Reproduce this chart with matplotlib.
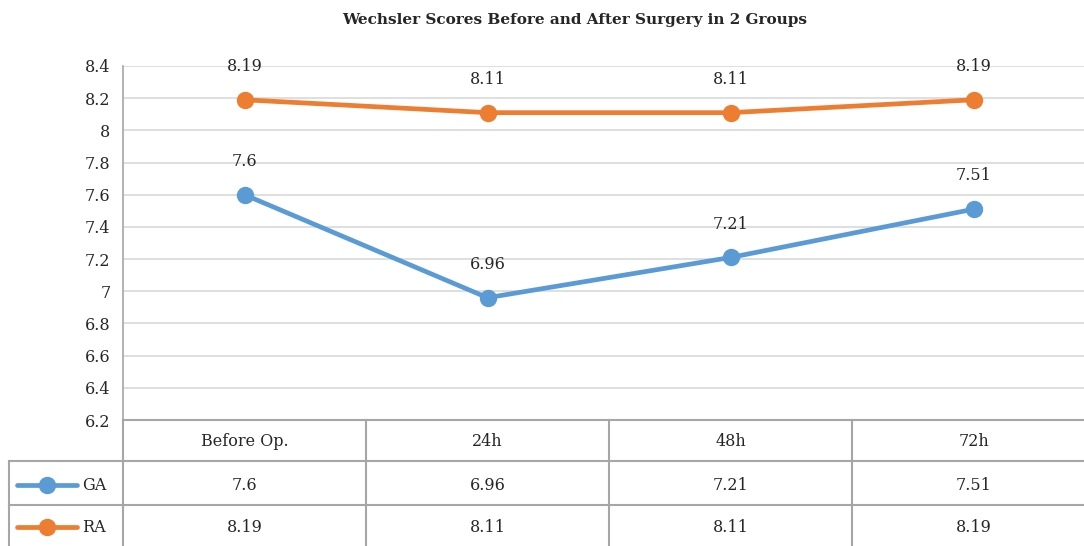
import numpy as np
import matplotlib.pyplot as plt
from matplotlib.lines import Line2D

plt.rcParams['font.family'] = ['DejaVu Serif']

categories = ['Before Op.', '24h', '48h', '72h']
ga_scores = [7.6, 6.96, 7.21, 7.51]
ra_scores = [8.19, 8.11, 8.11, 8.19]
series_names = ['GA', 'RA']
yticks = [6.2, 6.4, 6.6, 6.8, 7, 7.2, 7.4, 7.6, 7.8, 8, 8.2, 8.4]

blue = '#5B9BD5'
orange = '#ED7D31'
grid_c = '#D9D9D9'
edge_c = '#A6A6A6'
W, H = 1084, 546

fig = plt.figure(figsize=(W / 100, H / 100), dpi=100)

# main plot area: pixels 123..1095 wide, 66..420 tall
ax = fig.add_axes([123 / W, 1 - 420 / H, 972 / W, 354 / H])
x = np.arange(len(categories))
for vals, col in [(ga_scores, blue), (ra_scores, orange)]:
    ax.plot(x, vals, color=col, lw=3.4, marker='o', ms=11.5, solid_capstyle='round', zorder=3)
    for xi, v in zip(x, vals):
        ax.annotate(f'{v:g}', (xi, v), xytext=(0, 24), textcoords='offset points',
                    ha='center', va='center', fontsize=11.5, color='#262626')

ax.set_xlim(-0.5, 3.5)
ax.set_ylim(6.2, 8.4)
ax.set_yticks(yticks)
ax.set_yticklabels([f'{t:g}' for t in yticks], fontsize=11.5, color='#262626')
ax.tick_params(axis='y', length=0, pad=9)
ax.set_xticks([])
ax.grid(axis='y', color=grid_c, lw=1.2)
for s in ['top', 'right', 'bottom']:
    ax.spines[s].set_visible(False)
ax.spines['left'].set_color(edge_c)
ax.spines['left'].set_linewidth(1.2)
ax.set_axisbelow(True)

# data table below, in category units on x and pixel rows on y
x0 = (9 - 244.5) / 243
tax = fig.add_axes([9 / W, 0, (1095 - 9) / W, 126 / H])
tax.set_xlim(x0, 3.5)
tax.set_ylim(546, 420)
tax.axis('off')
lk = dict(color=edge_c, lw=1.5, clip_on=False)
tax.plot([-0.5, 3.5], [420, 420], **lk)
tax.plot([x0, 3.5], [461, 461], **lk)
tax.plot([x0, 3.5], [505, 505], **lk)
tax.plot([x0, x0], [461, 550], **lk)
for b in [-0.5, 0.5, 1.5, 2.5]:
    tax.plot([b, b], [420, 550], **lk)

for xi, c in zip(x, categories):
    tax.text(xi, 442, c, ha='center', va='center', fontsize=11.5, color='#262626')
rows = [(ga_scores, blue, 485), (ra_scores, orange, 527)]
for name, (vals, col, yy) in zip(series_names, rows):
    tax.add_line(Line2D([-0.936, -0.689], [yy, yy], color=col, lw=3.4,
                        solid_capstyle='round', clip_on=False))
    tax.plot([-0.813], [yy], 'o', color=col, ms=11.5, clip_on=False)
    tax.text(-0.668, yy, name, ha='left', va='center', fontsize=11.5, color='#262626')
    for xi, v in zip(x, vals):
        tax.text(xi, yy, f'{v:g}', ha='center', va='center', fontsize=11.5, color='#262626')

fig.text(575 / W, 1 - 20 / H, 'Wechsler Scores Before and After Surgery in 2 Groups',
         ha='center', va='center', fontsize=11, fontweight='bold', color='#262626')

fig.savefig('out.png', dpi=100)
